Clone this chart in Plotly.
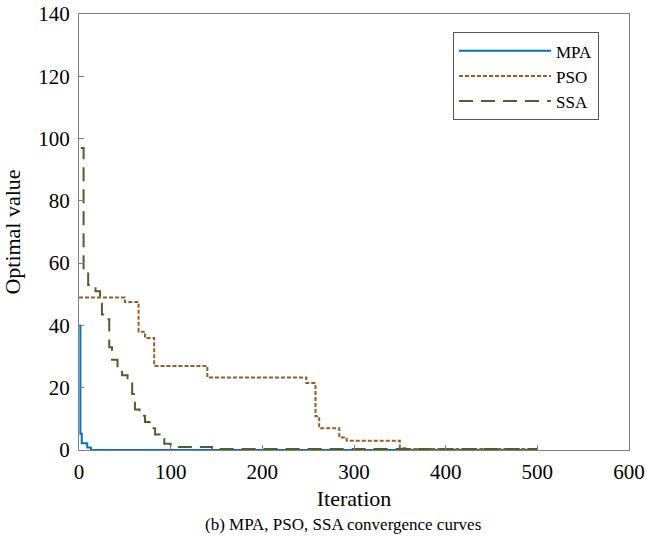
import plotly.graph_objects as go

# Data
mpa_x = [0, 1.5, 3, 9, 13, 500]
mpa_y = [40, 5.2, 2.2, 0.8, 0.0, 0.0]

pso_x = [0, 50, 65, 72, 82, 140, 248, 258, 262, 284, 292, 350, 358, 500]
pso_y = [49, 47.5, 38, 36, 27, 23.3, 21.5, 10.8, 7, 4, 3, 0.6, 0.3, 0.3]

ssa_x = [2, 5, 10, 18, 23, 25, 30, 33, 36, 42, 47, 53, 58, 61, 66, 72, 77, 83, 88, 93, 100, 145, 500]
ssa_y = [97, 57, 53, 51, 47, 43.5, 42, 33, 29, 26, 24, 22, 18, 13, 11, 9, 7, 5, 3.5, 2, 1, 0.3, 0.3]

x_ticks = [0, 100, 200, 300, 400, 500, 600]
y_ticks = [0, 20, 40, 60, 80, 100, 120, 140]

FONT = "Liberation Serif"

fig = go.Figure()
fig.add_trace(go.Scatter(x=mpa_x, y=mpa_y, name="MPA", mode="lines", line_shape="hv",
                         line=dict(color="#0072BD", width=2)))
fig.add_trace(go.Scatter(x=pso_x, y=pso_y, name="PSO", mode="lines", line_shape="hv",
                         line=dict(color="#9a5b25", width=2, dash="4px,2px")))
fig.add_trace(go.Scatter(x=ssa_x, y=ssa_y, name="SSA", mode="lines", line_shape="hv",
                         line=dict(color="#4f602c", width=2, dash="14px,8px")))

axis_common = dict(showgrid=False, zeroline=False, showline=True, linecolor="#808080",
                   linewidth=1, mirror=True, ticks="inside", ticklen=5, tickcolor="#808080",
                   automargin=False, ticklabeloverflow="allow",
                   tickfont=dict(family=FONT, size=21, color="black"))

fig.update_xaxes(range=[0, 600], tickvals=x_ticks, ticklabelstandoff=3,
                 title=dict(text="Iteration", font=dict(family=FONT, size=22, color="black"), standoff=7),
                 **axis_common)
fig.update_yaxes(range=[0, 140], tickvals=y_ticks, ticklabelstandoff=4,
                 title=dict(text="Optimal value", font=dict(family=FONT, size=22, color="black"), standoff=11),
                 **axis_common)

fig.update_layout(
    width=647, height=536,
    margin=dict(l=79, r=18, t=14, b=86),
    plot_bgcolor="white", paper_bgcolor="white",
    font=dict(family=FONT, color="black"),
    legend=dict(x=0.68, y=0.958, xanchor="left", yanchor="top",
                bordercolor="#555555", borderwidth=1, bgcolor="white",
                font=dict(family=FONT, size=17, color="black"),
                itemwidth=92, tracegroupgap=0),
    annotations=[dict(text="(b) MPA, PSO, SSA convergence curves", xref="paper", yref="paper",
                      x=0.48, y=-0.172, xanchor="center", yanchor="middle", showarrow=False,
                      font=dict(family=FONT, size=17, color="black"))],
)

fig.write_html("out.html", config={"displayModeBar": False},
               post_script="document.body.style.margin='0';document.body.style.overflow='hidden';")
